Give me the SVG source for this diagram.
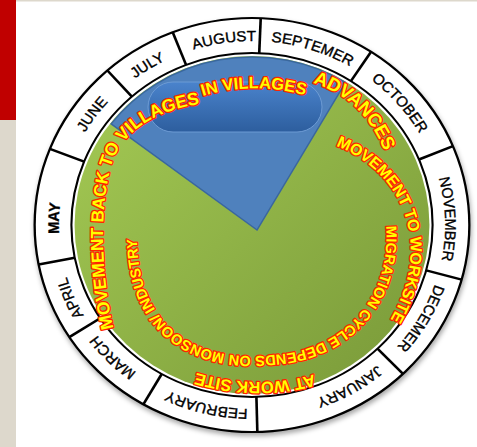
<svg xmlns="http://www.w3.org/2000/svg" width="477" height="447" viewBox="0 0 477 447">
<defs>
<linearGradient id="gGreen" x1="0" y1="0" x2="1" y2="1"><stop offset="0" stop-color="#a6cc55"/><stop offset="1" stop-color="#789838"/></linearGradient>
<linearGradient id="gPill" x1="0" y1="0" x2="0" y2="1"><stop offset="0" stop-color="#4a83cc"/><stop offset="1" stop-color="#2d5e9e"/></linearGradient>
<filter id="sh" x="-10%" y="-10%" width="120%" height="120%"><feDropShadow dx="1" dy="3" stdDeviation="2.5" flood-color="#000" flood-opacity="0.35"/></filter>
<path id="mp" d="M0,184 A184,184 0 1 1 0,-184 A184,184 0 1 1 0,184"/>
<path id="tA" d="M115,334 C101,280 99,212 111,166 C122,130 158,110 200,104"/>
<path id="tB" d="M197,98 Q253,79 311,97"/>
<path id="tC" d="M310,82 Q375,101 392,176"/>
<path id="tD" d="M336,146 C400,170 440,245 384,330"/>
<path id="tE" d="M386,226 C392,300 340,352 272,355 C205,362 135,335 137,232"/>
<path id="tF" d="M322,372 Q256,393 188,370"/>
</defs>
<style>
.m{font-family:"Liberation Sans",Arial,sans-serif;font-size:14.5px;fill:#000;stroke:#000;stroke-width:0.35;}
.w{font-family:"Liberation Sans",Arial,sans-serif;font-weight:bold;fill:#ffff00;stroke:#ff2400;stroke-width:2.6;paint-order:stroke fill;stroke-linejoin:round;}
.dv{stroke:#000;stroke-width:2.5;}
</style>
<rect width="477" height="447" fill="#ffffff"/>
<rect x="0" y="0" width="477" height="1.5" fill="#ddd8cc"/>
<rect x="0" y="0" width="16" height="447" fill="#ddd8cc"/>
<rect x="0" y="0" width="16" height="120" fill="#c00000"/>
<g id="wheel" transform="translate(252,225) scale(1.05,1)">
  <g id="ring" filter="url(#sh)">
    <circle r="207" fill="#ffffff" stroke="#000" stroke-width="2.2"/>
  </g>
  <circle id="ring-inner" r="172" fill="#ffffff" stroke="#000" stroke-width="2"/>
  <g id="connectors">
    <line class="dv" x1="6.9" y1="-171.9" x2="8.3" y2="-206.8"/>
    <line class="dv" x1="94.2" y1="-143.9" x2="113.4" y2="-173.2"/>
    <line class="dv" x1="159" y1="-65.5" x2="191.4" y2="-78.9"/>
    <line class="dv" x1="165.9" y1="45.4" x2="199.7" y2="54.6"/>
    <line class="dv" x1="119.5" y1="123.7" x2="143.8" y2="148.9"/>
    <line class="dv" x1="4.2" y1="171.9" x2="5.1" y2="206.9"/>
    <line class="dv" x1="-86" y1="149" x2="-103.5" y2="179.3"/>
    <line class="dv" x1="-144.6" y1="93.2" x2="-174" y2="112.1"/>
    <line class="dv" x1="-168.8" y1="32.8" x2="-203.2" y2="39.5"/>
    <line class="dv" x1="-159.9" y1="-63.3" x2="-192.5" y2="-76.2"/>
    <line class="dv" x1="-114.4" y1="-128.4" x2="-137.7" y2="-154.5"/>
    <line class="dv" x1="-62.8" y1="-160.1" x2="-75.5" y2="-192.7"/>
  </g>
  <g id="months" class="m" text-anchor="middle">
    <text id="aug"><textPath href="#mp" startOffset="551.4">AUGUST</textPath></text>
    <text id="sep"><textPath href="#mp" startOffset="635.9">SEPTEMER</textPath></text>
    <text id="oct"><textPath href="#mp" startOffset="735.4">OCTOBER</textPath></text>
    <text id="nov"><textPath href="#mp" startOffset="860.7">NOVEMBER</textPath></text>
    <text id="dec"><textPath href="#mp" startOffset="963.4">DECEMER</textPath></text>
    <text id="jan"><textPath href="#mp" startOffset="1059.8">JANUARY</textPath></text>
    <text id="feb"><textPath href="#mp" startOffset="43.4">FEBRUARY</textPath></text>
    <text id="mar"><textPath href="#mp" startOffset="144.5">MARCH</textPath></text>
    <text id="apr"><textPath href="#mp" startOffset="215.2">APRIL</textPath></text>
    <text id="may" font-weight="bold"><textPath href="#mp" startOffset="295.5">MAY</textPath></text>
    <text id="jun"><textPath href="#mp" startOffset="404.6">JUNE</textPath></text>
    <text id="jul"><textPath href="#mp" startOffset="475.3">JULY</textPath></text>
  </g>
  <circle id="green" r="169" fill="url(#gGreen)"/>
  <path id="wedge" d="M4.8,5 L-134.2,-101.1 A168,168 0 0 1 89,-142.5 Z" fill="#4f81bd" stroke="#3a679e" stroke-width="1.5"/>
</g>
<rect id="pill" x="148" y="82" width="174" height="50" rx="25" fill="url(#gPill)" stroke="#6d9bd4" stroke-width="1"/>
<g id="labels">
  <text class="w" font-size="17.5"><textPath href="#tA" startOffset="6">MOVEMENT BACK TO VILLAGES</textPath></text>
  <text class="w" font-size="16.5" text-anchor="middle"><textPath href="#tB" startOffset="50%">IN VILLAGES</textPath></text>
  <text class="w" font-size="18.5"><textPath href="#tC" startOffset="3">ADVANCES</textPath></text>
  <text class="w" font-size="16"><textPath href="#tD" startOffset="0">MOVEMENT TO WORKSITE</textPath></text>
  <text class="w" font-size="14.6"><textPath href="#tE" startOffset="0">MIGRATION CYCLE DEPENDS ON MONSOON/ INDUSTRY</textPath></text>
  <text class="w" font-size="16.5" text-anchor="middle"><textPath href="#tF" startOffset="50%">AT WORK SITE</textPath></text>
</g>
</svg>
